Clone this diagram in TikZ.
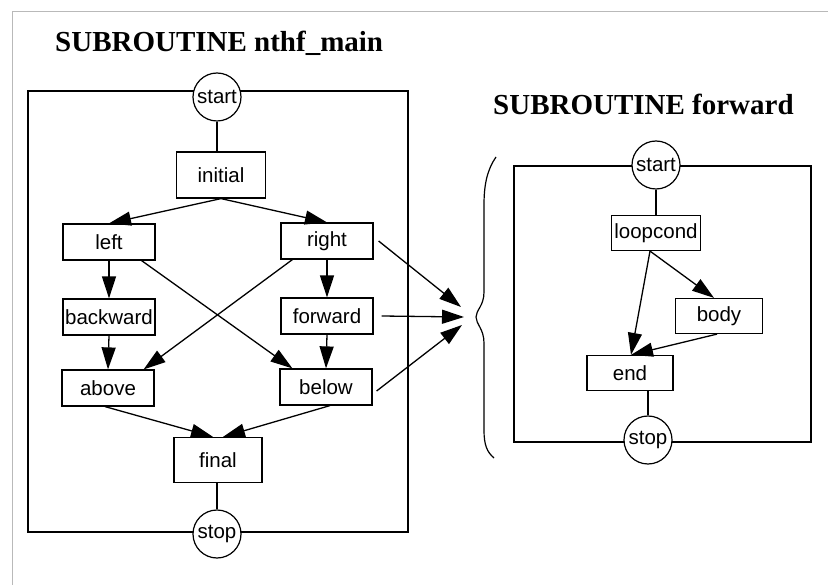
\documentclass[tikz,border=0pt]{standalone}
\usepackage{fontspec}
\newfontfamily\helv{Liberation Sans}
\newfontfamily\tms{Liberation Serif}
\usetikzlibrary{arrows.meta}
\begin{document}
\begin{tikzpicture}[x=1pt,y=-1pt,
  >={Triangle[length=22pt,width=14pt]},
  lbl/.style={font=\helv\fontsize{20.5}{24}\selectfont},
  box/.style={lbl,draw,line width=1.2pt,rectangle,inner sep=0pt,minimum width=92pt,minimum height=36pt},
  term/.style={lbl,draw,circle,fill=white,line width=1.2pt,inner sep=0pt,minimum size=48pt},
  frame/.style={line width=1.9pt},
  arr/.style={line width=1.3pt,->},
  ln/.style={line width=1.3pt},
  title/.style={font=\tms\bfseries\fontsize{29}{34}\selectfont,inner sep=0pt,anchor=base west}]
\useasboundingbox (0,0) rectangle (828,585);
% scan border
\draw[gray!55,line width=1pt] (12,585) -- (12,12) -- (828,12);

% ---------- left subroutine ----------
\node[title] (t1) at (55,52) {SUBROUTINE nthf\_main};
\draw[frame] (28,91) rectangle (408,532);
\node[term] (s1) at (217,97) {start};
\node[term] (e1) at (217,534) {stop};
\node[box,minimum width=89pt,minimum height=46pt] (initial) at (221,175) {initial};
\node[box] (left) at (109,242) {left};
\node[box] (right) at (327,241) {right};
\node[box] (backward) at (109,317) {backward};
\node[box] (forward) at (327,316) {forward};
\node[box] (above) at (108,388) {above};
\node[box] (below) at (326,387) {below};
\node[box,minimum width=88pt,minimum height=45pt] (final) at (218,460) {final};

\draw[ln] (s1.south) -- (s1.south |- initial.north);
\draw[arr] (initial.south) -- (left.north);
\draw[arr] (initial.south) -- (right.north);
\draw[arr] (left.south) -- (backward.north);
\draw[arr] (right.south) -- (forward.north);
\draw[arr] (backward.south) -- (above.north);
\draw[arr] (forward.south) -- (below.north);
\draw[arr] ([xshift=-14pt]left.south east) -- ([xshift=13pt]below.north west);
\draw[arr] ([xshift=12pt]right.south west) -- ([xshift=-11pt]above.north east);
\draw[arr] ([xshift=-3pt]above.south) -- ([xshift=-5pt]final.north);
\draw[arr] ([xshift=4pt]below.south) -- ([xshift=5pt]final.north);
\draw[ln] (e1.north |- final.south) -- (e1.north);

% ---------- brace and calls ----------
\draw[line width=1.2pt] (496,157) .. controls (487,170) and (484,185) .. (484,205)
  -- (484,292) .. controls (484,306) and (476,310) .. (476,317)
  .. controls (476,324) and (484,329) .. (484,343)
  -- (484,430) .. controls (484,445) and (487,452) .. (494,458);
\coordinate (c1) at (461,307);
\coordinate (c2) at (464,317);
\coordinate (c3) at (462,325);
\draw[arr] ([xshift=5pt]right.east) -- (c1);
\draw[arr] ([xshift=8pt]forward.east) -- (c2);
\draw[arr] ([xshift=4pt,yshift=-4pt]below.east) -- (c3);

% ---------- right subroutine ----------
\node[title] (t2) at (493,115) {SUBROUTINE forward};
\draw[frame] (514,166) rectangle (811,442);
\node[term] (s2) at (656,165) {start};
\node[term] (e2) at (648,440) {stop};
\node[box,minimum width=89pt,minimum height=35pt] (loopcond) at (656,233) {loopcond};
\node[box,minimum width=87pt,minimum height=35pt] (body) at (719,316) {body};
\node[box,minimum width=86pt,minimum height=35pt] (end) at (630,373) {end};

\draw[ln] (s2.south) -- (loopcond.north);
\draw[arr] ([xshift=-6pt]loopcond.south) -- ([xshift=1pt]end.north);
\draw[arr] ([xshift=-6pt]loopcond.south) -- ([xshift=-5pt]body.north);
\draw[arr] ([xshift=-2pt]body.south) -- ([xshift=1pt]end.north);
\draw[ln] (e2.north |- end.south) -- (e2.north);
\end{tikzpicture}
\end{document}
